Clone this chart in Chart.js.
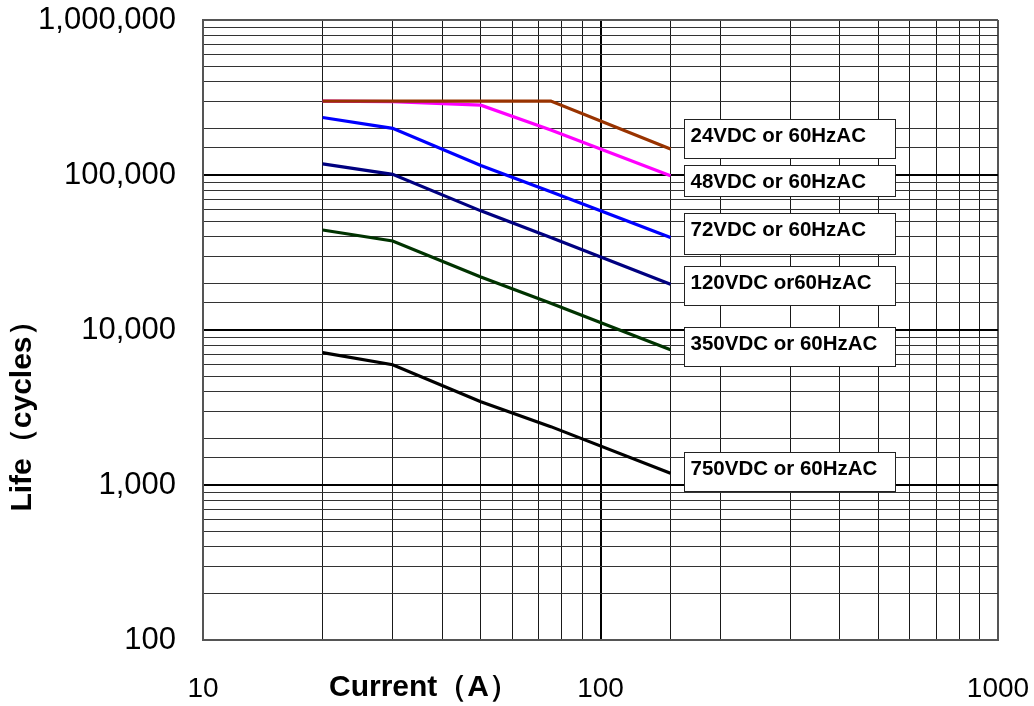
<!DOCTYPE html>
<html>
<head>
<meta charset="utf-8">
<style>
  html, body { margin: 0; padding: 0; background: #ffffff; }
  #wrap { width: 1034px; height: 706px; }
</style>
<script src="https://cdn.jsdelivr.net/npm/chart.js@4.4.1/dist/chart.umd.min.js"></script>
</head>
<body>
<div id="wrap"><canvas id="c" width="1034" height="706"></canvas></div>
<script>
// ---- data ----
const currents = [20, 30, 50, 75, 150];           // A
const seriesNames = ['24VDC or 60HzAC', '48VDC or 60HzAC', '72VDC or 60HzAC',
                     '120VDC or60HzAC', '350VDC or 60HzAC', '750VDC or 60HzAC'];
const life24  = [300000, 300000, 300000, 300000, 147000];
const life48  = [300000, 297000, 282000, 195000, 99000];
const life72  = [235000, 200000, 115000, 78000, 39500];
const life120 = [118000, 101000, 58700, 39500, 19700];
const life350 = [44200, 37500, 22000, 14900, 7450];
const life750 = [7150, 5970, 3440, 2380, 1190];
const xTickLabels = { 10: '10', 100: '100', 1000: '1000' };
const yTickLabels = { 100: '100', 1000: '1,000', 10000: '10,000', 100000: '100,000', 1000000: '1,000,000' };
const xTitle = 'Current（A）';
const yTitle = 'Life（cycles）';

// ---- styles / layout ----
const seriesColors = ['#993300', '#ff00ff', '#0000ff', '#000080', '#003300', '#000000'];
const labelBoxX = [162, 551];            // in current units
const labelBoxY = [                        // [top, bottom] in life units
  [228500, 128000],
  [116000, 73200],
  [57100, 30800],
  [25900, 14500],
  [10500, 5860],
  [1640, 915]
];
const FONT = "'Liberation Sans', Arial, sans-serif";

const allSeries = [life24, life48, life72, life120, life350, life750];
const datasets = allSeries.map((vals, i) => ({
  label: seriesNames[i],
  data: currents.map((x, j) => ({ x: x, y: vals[j] })),
  borderColor: seriesColors[i],
  backgroundColor: seriesColors[i],
  borderWidth: 3.2,
  pointRadius: 0,
  tension: 0,
  fill: false
}));

const isPow10 = v => Math.abs(Math.log10(v) - Math.round(Math.log10(v))) < 1e-9;

const labelBoxPlugin = {
  id: 'labelBoxes',
  afterDatasetsDraw(chart) {
    const ctx = chart.ctx;
    const xs = chart.scales.x, ys = chart.scales.y;
    const l = Math.round(xs.getPixelForValue(labelBoxX[0])) + 0.5;
    const r = Math.round(xs.getPixelForValue(labelBoxX[1])) + 0.5;
    ctx.save();
    seriesNames.forEach((name, i) => {
      const t = Math.round(ys.getPixelForValue(labelBoxY[i][0])) + 0.5;
      const b = Math.round(ys.getPixelForValue(labelBoxY[i][1])) + 0.5;
      ctx.fillStyle = '#ffffff';
      ctx.fillRect(l, t, r - l, b - t);
      ctx.strokeStyle = '#222222';
      ctx.lineWidth = 1;
      ctx.strokeRect(l, t, r - l, b - t);
      ctx.fillStyle = '#000000';
      ctx.font = 'bold 20.5px ' + FONT;
      ctx.textAlign = 'left';
      ctx.textBaseline = 'alphabetic';
      ctx.fillText(name, l + 6, t + 22);
    });
    ctx.restore();
  }
};

const axisTitlePlugin = {
  id: 'axisTitles',
  afterDraw(chart) {
    const ctx = chart.ctx;
    ctx.save();
    ctx.fillStyle = '#000000';
    ctx.font = 'bold 30px ' + FONT;
    ctx.textBaseline = 'middle';
    ctx.textAlign = 'left';
    ctx.fillText(xTitle, 329, 688);
    ctx.translate(23, 409);
    ctx.rotate(-Math.PI / 2);
    ctx.textAlign = 'center';
    ctx.fillText(yTitle, 0, 0);
    ctx.restore();
  }
};

function zeroPad(s) { s.paddingLeft = 0; s.paddingRight = 0; s.paddingTop = 0; s.paddingBottom = 0; }

new Chart(document.getElementById('c'), {
  type: 'line',
  data: { datasets: datasets },
  options: {
    responsive: false,
    animation: false,
    events: [],
    layout: { padding: { top: 20, right: 36, left: 0, bottom: 0 } },
    plugins: { legend: { display: false }, tooltip: { enabled: false }, title: { display: false } },
    scales: {
      x: {
        type: 'logarithmic',
        min: 10, max: 1000,
        afterFit(s) { s.height = 66; zeroPad(s); },
        border: { display: true, color: '#555555', width: 2 },
        grid: {
          drawTicks: false,
          color: c => (c.tick && isPow10(c.tick.value)) ? ((c.tick.value === 10 || c.tick.value === 1000) ? '#555555' : '#000000') : '#1a1a1a',
          lineWidth: c => (c.tick && isPow10(c.tick.value)) ? 2 : 1
        },
        ticks: {
          autoSkip: false, maxRotation: 0, minRotation: 0,
          padding: 32,
          color: '#000000',
          font: { family: FONT, size: 28 },
          callback: v => xTickLabels[v] !== undefined ? xTickLabels[v] : ''
        }
      },
      y: {
        type: 'logarithmic',
        min: 100, max: 1000000,
        afterFit(s) { s.width = 203; zeroPad(s); },
        border: { display: true, color: '#555555', width: 2 },
        grid: {
          drawTicks: false,
          color: c => (c.tick && isPow10(c.tick.value)) ? ((c.tick.value === 100 || c.tick.value === 1000000) ? '#555555' : '#000000') : '#333333',
          lineWidth: c => (c.tick && isPow10(c.tick.value)) ? 2 : 1
        },
        ticks: {
          autoSkip: false,
          padding: 27,
          color: '#000000',
          font: { family: FONT, size: 31 },
          callback: v => yTickLabels[v] !== undefined ? yTickLabels[v] : ''
        }
      }
    }
  },
  plugins: [labelBoxPlugin, axisTitlePlugin]
});
</script>
</body>
</html>
